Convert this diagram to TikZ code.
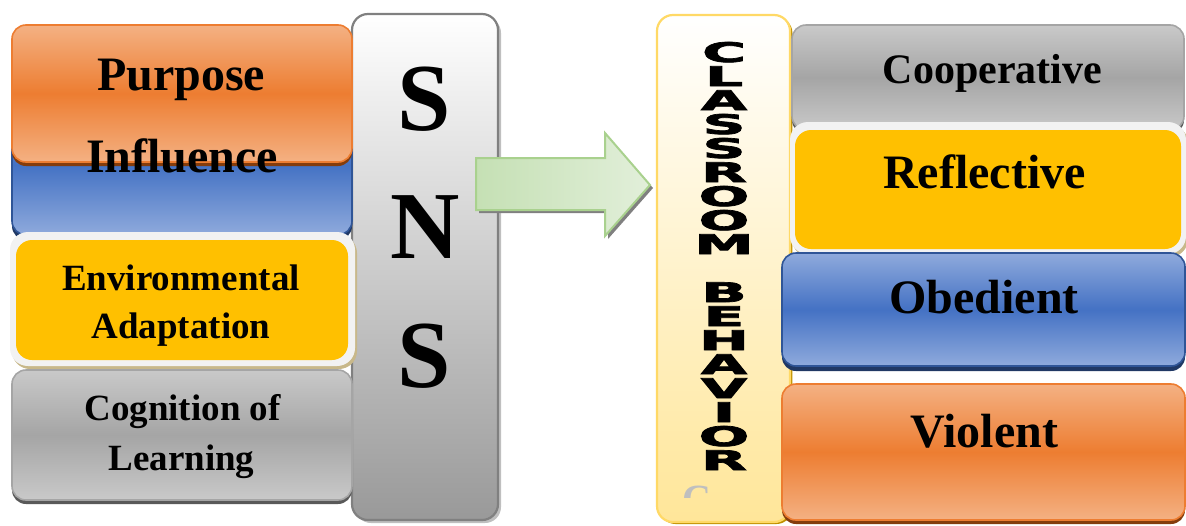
\documentclass[tikz,border=0pt]{standalone}
\usepackage{fontspec}
\setmainfont{Liberation Serif}
\newfontfamily\heavyfont{DejaVu Sans}[BoldFeatures={FakeBold=2.5}]
\usetikzlibrary{shadows}
\definecolor{OrangeL}{HTML}{F4B183}
\definecolor{OrangeM}{HTML}{ED7D31}
\definecolor{OrangeS}{HTML}{843C0C}
\definecolor{BlueL}{HTML}{8FAADC}
\definecolor{BlueM}{HTML}{4472C4}
\definecolor{BlueD}{HTML}{2F5597}
\definecolor{BlueS}{HTML}{203864}
\definecolor{GrayL}{HTML}{C9C9C9}
\definecolor{GrayM}{HTML}{A5A5A5}
\definecolor{GrayS}{HTML}{595959}
\definecolor{GoldF}{HTML}{FFC000}
\definecolor{FrameW}{HTML}{F2F2F2}
\definecolor{TanS}{HTML}{C8B88A}
\definecolor{YelL}{HTML}{FFE699}
\definecolor{YelB}{HTML}{FFD966}
\definecolor{YelS}{HTML}{BF9000}
\definecolor{GreenL}{HTML}{E2EFDA}
\definecolor{GreenM}{HTML}{C5E0B4}
\definecolor{GreenB}{HTML}{A9D18E}
\tikzset{
  box/.style={rounded corners=7pt, inner sep=0pt, line width=0.8pt},
  orangebox/.style={box, draw=OrangeM, top color=OrangeL, bottom color=OrangeL, middle color=OrangeM,
    drop shadow={shadow xshift=0pt, shadow yshift=-2pt, fill=OrangeS, opacity=1}},
  bluebox/.style={box, draw=BlueD, top color=BlueL, bottom color=BlueL, middle color=BlueM,
    drop shadow={shadow xshift=0pt, shadow yshift=-2.5pt, fill=BlueS, opacity=1}},
  graybox/.style={box, draw=GrayM, top color=GrayL, bottom color=GrayL, middle color=GrayM,
    drop shadow={shadow xshift=0pt, shadow yshift=-2pt, fill=GrayS, opacity=1}},
  framebox/.style={box, fill=FrameW, rounded corners=9pt,
    drop shadow={shadow xshift=1pt, shadow yshift=-1.5pt, fill=TanS, opacity=1}},
  goldbox/.style={box, fill=GoldF, rounded corners=8pt},
  tallbox/.style={box, rounded corners=8pt, line width=1.1pt},
  lbl/.style={font=\bfseries\fontsize{24}{28}\selectfont, anchor=base, inner sep=0pt},
  slbl/.style={font=\bfseries\fontsize{18.5}{22}\selectfont, anchor=base, inner sep=0pt},
  biglbl/.style={font=\bfseries\fontsize{48}{54}\selectfont, anchor=base, inner sep=0pt},
  vlbl/.style={font=\heavyfont\bfseries\fontsize{13.5}{14}\selectfont, anchor=base, inner sep=0pt},
}
\begin{document}
\begin{tikzpicture}[x=0.5pt,y=-0.5pt]
\useasboundingbox (0,0) rectangle (1186,525);
% SNS column
\node[tallbox, draw=black!50, top color=white, bottom color=black!40,
  drop shadow={shadow xshift=1.5pt, shadow yshift=-1.5pt, fill=black!25, opacity=1},
  minimum width=73pt, minimum height=253pt] (sns) at (425,267) {};
% left column
\node[bluebox, minimum width=170pt, minimum height=70pt] (blue) at (182,165) {};
\node[orangebox, minimum width=170pt, minimum height=68.5pt] (orange) at (182,93.5) {};
\node[framebox, minimum width=172.5pt, minimum height=67pt] (envframe) at (182.5,299) {};
\node[goldbox, minimum width=166pt, minimum height=60pt] (env) at (182,300) {};
\node[graybox, minimum width=170pt, minimum height=65pt] (cog) at (182,435) {};
\node[lbl] (t1) at (181,90) {Purpose};
\node[lbl] (t2) at (182,172) {Influence};
\node[slbl] (t3) at (181,290) {Environmental};
\node[slbl] (t4) at (181,338) {Adaptation};
\node[slbl] (t5) at (182.5,420) {Cognition of};
\node[slbl] (t6) at (181.5,470) {Learning};
\node[biglbl] (s1) at (424,130) {S};
\node[biglbl] (n1) at (425,258) {N};
\node[biglbl] (s2) at (424,387) {S};
% block arrow
\fill[black!50] (479,161) -- (608,161) -- (608,136) -- (653,188) -- (608,239) -- (608,213) -- (479,213) -- cycle;
\shadedraw[draw=GreenB, line width=1pt, shading angle=60, left color=GreenM, right color=GreenL]
  (476,158) -- (605,158) -- (605,133) -- (650,185) -- (605,236) -- (605,210) -- (476,210) -- cycle;
% classroom column
\node[tallbox, draw=YelB, top color=white, bottom color=YelL,
  drop shadow={shadow xshift=1.2pt, shadow yshift=-1pt, fill=YelS, opacity=1},
  minimum width=66.5pt, minimum height=253.5pt] (cb) at (723.5,268.5) {};
\begin{scope}
\clip (660,470) rectangle (760,497);
\node[font=\bfseries\fontsize{20}{22}\selectfont, text=black!25, anchor=base, inner sep=0pt] (cmark) at (697,512) {C};
\end{scope}
\foreach \ch [count=\i from 0] in {C,L,A,S,S,R,O,O,M,{},B,E,H,A,V,I,O,R}{
  \node[vlbl] (v\i) at (724,62+24*\i) {\scalebox{2.2}[1]{\ch}};
}
% right column
\node[graybox, minimum width=196pt, minimum height=52.5pt] (coop) at (988,77.5) {};
\node[framebox, minimum width=198pt, minimum height=66pt] (refframe) at (988,188) {};
\node[goldbox, minimum width=193pt, minimum height=59.5pt] (refl) at (988,189.5) {};
\node[bluebox, minimum width=201.5pt, minimum height=56.5pt] (obed) at (983.5,309.5) {};
\node[orangebox, minimum width=201.5pt, minimum height=68pt] (viol) at (983.5,452) {};
\node[lbl, font=\bfseries\fontsize{21}{25}\selectfont] (r1) at (992.5,83) {Cooperative};
\node[lbl] (r2) at (984.5,188) {Reflective};
\node[lbl] (r3) at (984,313) {Obedient};
\node[lbl] (r4) at (984.5,447) {Violent};
\end{tikzpicture}
\end{document}
